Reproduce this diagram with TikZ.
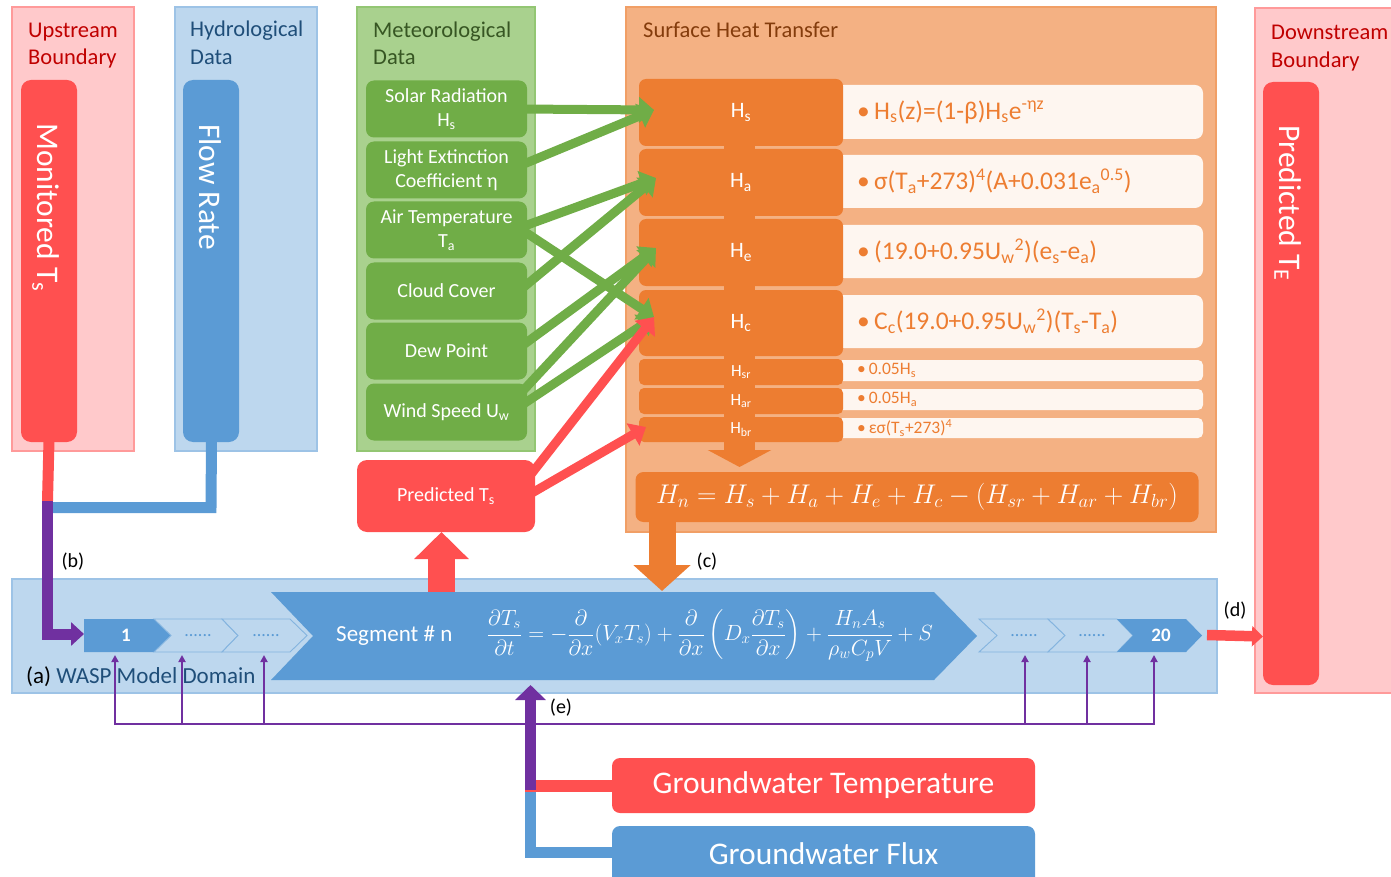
\documentclass[tikz,border=0pt]{standalone}
\usepackage{fix-cm}
\usepackage{amsmath}
\usepackage{fontspec}
\setmainfont{Carlito}
\usetikzlibrary{arrows.meta,calc}

\definecolor{pinkfill}{HTML}{FFC9CB}
\definecolor{pinkline}{HTML}{FF9A9A}
\definecolor{tred}{HTML}{FF5050}
\definecolor{dred}{HTML}{C00000}
\definecolor{bfill}{HTML}{BDD7EE}
\definecolor{bline}{HTML}{9DC3E6}
\definecolor{tblue}{HTML}{5B9BD5}
\definecolor{dblue}{HTML}{1F4E79}
\definecolor{gfill}{HTML}{A9D18E}
\definecolor{gline}{HTML}{93C673}
\definecolor{tgreen}{HTML}{70AD47}
\definecolor{dgreen}{HTML}{375623}
\definecolor{ofill}{HTML}{F4B183}
\definecolor{oline}{HTML}{F19F66}
\definecolor{torange}{HTML}{ED7D31}
\definecolor{dbrown}{HTML}{843C0C}
\definecolor{fcream}{HTML}{FEF6F0}
\definecolor{tpurple}{HTML}{7030A0}

\newcommand{\fsz}[2]{\fontsize{#1pt}{#2pt}\selectfont}

\tikzset{
  panel/.style 2 args={fill=#1, draw=#2, line width=1.2pt, inner sep=0pt, outer sep=0pt},
  ttl/.style={anchor=base west, inner sep=0pt, font=\fsz{22.5}{27}},
  bar/.style={fill=#1, rounded corners=10pt, inner sep=0pt, outer sep=0pt},
  vtext/.style={rotate=-90, anchor=base west, inner sep=0pt, text=white, font=\fsz{31.5}{36}},
  metitem/.style={fill=tgreen, rounded corners=8pt, minimum width=161pt, minimum height=57pt,
    text=white, align=center, font=\fsz{20}{24}, inner sep=0pt, outer sep=0pt},
  hbox/.style={fill=torange, rounded corners=7pt, minimum width=204pt, text=white,
    inner sep=0pt, outer sep=0pt},
  fmbox/.style={fill=fcream, rounded corners=8pt, minimum width=367pt, inner sep=0pt, outer sep=0pt},
  fmtext/.style={anchor=west, text=torange, inner sep=0pt},
  garrow/.style={draw=tgreen, line width=9pt, -{Triangle[length=15pt,width=25pt]}},
  rarrow/.style={draw=tred, line width=9pt, -{Triangle[length=15pt,width=25pt]}},
  plink/.style={draw=tpurple, line width=2pt},
  parrow/.style={draw=tpurple, line width=2pt, -{Triangle[length=7pt,width=7pt]}},
  lbl/.style={inner sep=0pt, text=black, font=\fsz{20}{24}},
  segfull/.style={fill=tblue},
  segoutline/.style={draw=tblue!75, line width=0.9pt, fill=bfill},
  dots/.style={inner sep=0pt, text=tblue, font=\fsz{18}{20}},
  gwbox/.style={rounded corners=8pt, minimum width=423pt, inner sep=0pt, outer sep=0pt}
}

\begin{document}
\begin{tikzpicture}[x=1pt,y=-1pt]
\useasboundingbox (0,0) rectangle (1391,877);
\clip (0,0) rectangle (1391,877);

% ---------- background panels ----------
\node[panel={pinkfill}{pinkline}, minimum width=122pt, minimum height=444pt] (up) at (73,229) {};
\node[panel={bfill}{bline}, minimum width=142pt, minimum height=444pt] (hyd) at (246,229) {};
\node[panel={gfill}{gline}, minimum width=178pt, minimum height=444pt] (met) at (446,229) {};
\node[panel={ofill}{oline}, minimum width=590pt, minimum height=525pt] (sht) at (921,269.5) {};
\node[panel={pinkfill}{pinkline}, minimum width=145pt, minimum height=685pt] (down) at (1327.5,350.5) {};
\node[panel={bfill}{bline}, minimum width=1205pt, minimum height=114pt] (wasp) at (614.5,636) {};

% ---------- panel titles ----------
\node[ttl, text=dred] (t1a) at (28,38) {Upstream};
\node[ttl, text=dred] (t1b) at (28,65) {Boundary};
\node[ttl, text=dblue] (t2a) at (190,37) {Hydrological};
\node[ttl, text=dblue] (t2b) at (190,65) {Data};
\node[ttl, text=dgreen] (t3a) at (373,38) {Meteorological};
\node[ttl, text=dgreen] (t3b) at (373,65) {Data};
\node[ttl, text=dbrown] (t4) at (643,38) {Surface Heat Transfer};
\node[ttl, text=dred] (t5a) at (1271,40) {Downstream};
\node[ttl, text=dred] (t5b) at (1271,68) {Boundary};

% ---------- boundary bars ----------
\node[bar=tred, minimum width=56pt, minimum height=362pt] (mon) at (49,261) {};
\node[vtext] (monT) at (37,123) {Monitored T\textsubscript{s}};
\node[bar=tblue, minimum width=56pt, minimum height=362pt] (flow) at (211,261) {};
\node[vtext] (flowT) at (199,124) {Flow Rate};
\node[bar=tred, minimum width=56pt, minimum height=603pt] (predE) at (1291,383.5) {};
\node[vtext] (predET) at (1279,125) {Predicted T\textsubscript{E}};

% ---------- meteorological inputs ----------
\node[metitem] (solar) at (446.5,109) {Solar Radiation\\H\textsubscript{s}};
\node[metitem] (light) at (446.5,170) {Light Extinction\\Coefficient η};
\node[metitem] (air)   at (446.5,230) {Air Temperature\\T\textsubscript{a}};
\node[metitem] (cloud) at (446.5,291) {Cloud Cover};
\node[metitem] (dew)   at (446.5,351) {Dew Point};
\node[metitem] (wind)  at (446.5,412) {Wind Speed U\textsubscript{w}};

\node[bar=tred, minimum width=178pt, minimum height=72pt, text=white, font=\fsz{20}{24}] (pts) at (446,496) {Predicted T\textsubscript{s}};

% ---------- heat flux terms ----------
\node[fmbox, minimum height=54pt] (fs)  at (1019.5,112) {};
\node[fmbox, minimum height=53pt] (fa)  at (1019.5,181.5) {};
\node[fmbox, minimum height=53pt] (fe)  at (1019.5,251.5) {};
\node[fmbox, minimum height=53pt] (fc)  at (1019.5,321.5) {};
\node[fmbox, minimum height=21pt, rounded corners=5pt] (fsr) at (1019.5,370.5) {};
\node[fmbox, minimum height=21pt, rounded corners=5pt] (far) at (1019.5,399.5) {};
\node[fmbox, minimum height=20pt, rounded corners=5pt] (fbr) at (1019.5,428) {};

\coordinate (stackTop) at (739.5,110);
\coordinate (stackTip) at (739.5,467);
\draw[torange, line width=31pt, -{Triangle[length=17pt,width=63pt]}] (stackTop) -- (stackTip);

\node[hbox, minimum height=67pt, font=\fsz{22}{26}] (Hs)  at (741,112.5) {H\textsubscript{s}};
\node[hbox, minimum height=67pt, font=\fsz{22}{26}] (Ha)  at (741,182.5) {H\textsubscript{a}};
\node[hbox, minimum height=67pt, font=\fsz{22}{26}] (He)  at (741,252.5) {H\textsubscript{e}};
\node[hbox, minimum height=66pt, font=\fsz{22}{26}] (Hc)  at (741,323) {H\textsubscript{c}};
\node[hbox, minimum height=26pt, rounded corners=5pt, font=\fsz{17}{20}] (Hsr) at (741,372) {H\textsubscript{sr}};
\node[hbox, minimum height=26pt, rounded corners=5pt, font=\fsz{17}{20}] (Har) at (741,401) {H\textsubscript{ar}};
\node[hbox, minimum height=25pt, rounded corners=5pt, font=\fsz{17}{20}] (Hbr) at (741,429.5) {H\textsubscript{br}};

\node[fmtext, font=\fsz{25.5}{30}] (fsT) at (857,112) {•\,H\textsubscript{s}(z)=(1-β)H\textsubscript{s}e\textsuperscript{-ηz}};
\node[fmtext, font=\fsz{25.5}{30}] (faT) at (857,181.5) {•\,σ(T\textsubscript{a}+273)\textsuperscript{4}(A+0.031e\textsubscript{a}\textsuperscript{0.5})};
\node[fmtext, font=\fsz{25.5}{30}] (feT) at (857,251.5) {•\,(19.0+0.95U\textsubscript{w}\textsuperscript{2})(e\textsubscript{s}-e\textsubscript{a})};
\node[fmtext, font=\fsz{25.5}{30}] (fcT) at (857,321.5) {•\,C\textsubscript{c}(19.0+0.95U\textsubscript{w}\textsuperscript{2})(T\textsubscript{s}-T\textsubscript{a})};
\node[fmtext, font=\fsz{17.5}{20}] (fsrT) at (857,370.5) {•\,0.05H\textsubscript{s}};
\node[fmtext, font=\fsz{17.5}{20}] (farT) at (857,399.5) {•\,0.05H\textsubscript{a}};
\node[fmtext, font=\fsz{17.5}{20}] (fbrT) at (857,428) {•\,εσ(T\textsubscript{s}+273)\textsuperscript{4}};

% net heat flux
\node[fill=torange, rounded corners=8pt, minimum width=563pt, minimum height=50pt, inner sep=0pt,
      text=white, font=\fsz{27}{31}] (Hn) at (917,497)
  {$H_n = H_s + H_a + H_e + H_c - (H_{sr} + H_{ar} + H_{br})$};

% ---------- input arrows into the heat terms ----------
\coordinate (tHs)  at (654,110);
\coordinate (tHa)  at (656,178);
\coordinate (tHe)  at (656,248);
\coordinate (tHc)  at (654,317);
\coordinate (tHbr) at (646,427);

\draw[garrow] ([xshift=-8pt]solar.east) -- (tHs);
\draw[garrow] ([xshift=-8pt,yshift=4pt]light.east) -- (tHs);
\draw[garrow] ([xshift=-8pt,yshift=2pt]air.east) -- (tHa);
\draw[garrow] ([xshift=-8pt,yshift=2pt]air.east) -- (tHc);
\draw[garrow] ([xshift=-8pt]cloud.east) -- (tHa);
\draw[garrow] ([xshift=-8pt,yshift=3pt]dew.east) -- (tHe);
\draw[garrow] ([xshift=-8pt,yshift=17pt]wind.east) -- (tHe);
\draw[garrow] ([xshift=-8pt,yshift=5pt]wind.east) -- (tHc);
\draw[rarrow] ([xshift=-10pt,yshift=14pt]pts.east) -- (tHc);
\draw[rarrow] ([xshift=-10pt,yshift=-1pt]pts.east) -- (tHbr);

% ---------- exchange with the model domain ----------
\coordinate (segTop) at (662,591);
\draw[torange, line width=27pt, -{Triangle[length=26pt,width=56pt]}] ([xshift=-255pt]Hn.south) -- (segTop);
\draw[tred, line width=27pt, -{Triangle[length=27pt,width=53pt]}] (441.5,600) -- (pts.south -| 441.5,0);

% segment n
\path[segfull] (271,592) -- (934,592) -- (977,636) -- (934,680) -- (271,680) -- (313,636) -- cycle;
\node[inner sep=0pt, anchor=west, text=white, font=\fsz{23}{27}] (segT) at (336,636) {Segment \# n};
\node[inner sep=0pt, text=white, font=\fsz{22}{26}] (pde) at (710,636)
  {$\displaystyle \frac{\partial T_s}{\partial t} = -\frac{\partial}{\partial x}(V_xT_s)
   + \frac{\partial}{\partial x}\left(D_x\frac{\partial T_s}{\partial x}\right)
   + \frac{H_nA_s}{\rho_wC_pV} + S$};

% small segments
\path[segfull] (84,619) -- (154,619) -- (171,635.5) -- (154,652) -- (84,652) -- cycle;
\path[segoutline] (154,619) -- (222,619) -- (238,635.5) -- (222,652) -- (154,652) -- (171,635.5) -- cycle;
\path[segoutline] (222,619) -- (290,619) -- (307,635.5) -- (290,652) -- (222,652) -- (238,635.5) -- cycle;
\path[segoutline] (979,619) -- (1048,619) -- (1065,635.5) -- (1048,652) -- (979,652) -- (997,635.5) -- cycle;
\path[segoutline] (1048,619) -- (1117,619) -- (1133,635.5) -- (1117,652) -- (1048,652) -- (1065,635.5) -- cycle;
\path[segfull] (1117,619) -- (1186,619) -- (1202,635.5) -- (1186,652) -- (1117,652) -- (1133,635.5) -- cycle;
\node[inner sep=0pt, text=white, font=\bfseries\fsz{19}{22}] (s1) at (126,635.5) {1};
\node[inner sep=0pt, text=white, font=\bfseries\fsz{19}{22}] (s20) at (1161,635.5) {20};
\node[dots] (d1) at (198,636) {......};
\node[dots] (d2) at (266,636) {......};
\node[dots] (d3) at (1024,636) {......};
\node[dots] (d4) at (1092,636) {......};

\node[anchor=base west, inner sep=0pt, font=\fsz{23}{27}] (wlab) at (26,683)
  {\textcolor{black}{(a)} \textcolor{dblue}{WASP Model Domain}};

% ---------- upstream boundary inflow (b) ----------
\coordinate (bJoin) at (47.5,501);
\coordinate (bMid) at (47.5,507.5);
\coordinate (bCorner) at (47.5,634);
\coordinate (bTip) at (84,634);
\draw[tred, line width=11pt] ([yshift=2pt]mon.south) -- (bJoin);
\draw[tblue, line width=11pt, line join=miter] ([xshift=0.5pt,yshift=2pt]flow.south) -- (211,507.5) -- (bMid);
\draw[tpurple, line width=11pt, line join=miter, -{Triangle[length=13pt,width=23pt]}] (bJoin) -- (bCorner) -- (bTip);
\node[lbl] (lb) at (73,562) {(b)};

% ---------- downstream outflow (d) ----------
\coordinate (dStart) at (1207,635);
\draw[tred, line width=10.5pt, -{Triangle[length=11pt,width=20pt]}] (dStart) -- ([yshift=-1.5pt]predE.west |- dStart);
\node[lbl] (ld) at (1235,611) {(d)};
\node[lbl] (lc) at (707,562) {(c)};

% ---------- lateral distribution to all segments ----------
\draw[plink] (115,724) -- (1154,724);
\foreach \px in {115,182,264,1025,1087,1154}
  \draw[parrow] (\px,725) -- (\px,655);

% ---------- groundwater (e) ----------
\node[gwbox, fill=tred, minimum height=55pt, text=white, font=\fsz{31.5}{36}] (gwt) at (823.5,785.5) {Groundwater Temperature};
\node[gwbox, fill=tblue, minimum height=74pt] (gwf) at (823.5,863) {};
\node[inner sep=0pt, text=white, font=\fsz{31.5}{36}] (gwfT) at (823.5,854) {Groundwater Flux};

\coordinate (eJoin) at (530.5,790);
\coordinate (eTip) at (530.5,685);
\draw[tblue, line width=11pt, line join=miter] ([yshift=-26.5pt]gwf.north west) -- ++(-81.5,0) -- ++(0,-66.5);
\draw[tred, line width=12pt] (gwt.west) -- ++(-87.5,0);
\draw[tpurple, line width=11pt, -{Triangle[length=15pt,width=30pt]}] (eJoin) -- (eTip);
\node[lbl] (le) at (561,708) {(e)};

\end{tikzpicture}
\end{document}
